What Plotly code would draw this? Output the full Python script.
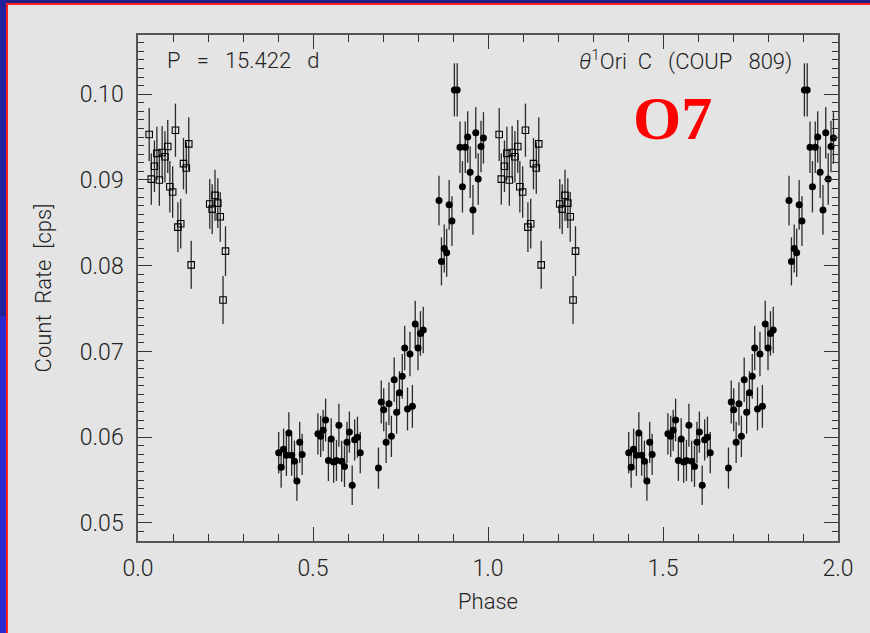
import plotly.graph_objects as go

# ---- data ----
# open squares (phase 0.03-0.25, repeated at +1)
sq_phase = [0.032, 0.038, 0.047, 0.054, 0.061, 0.069, 0.077, 0.085, 0.091, 0.099,
            0.107, 0.114, 0.122, 0.130, 0.138, 0.145, 0.152,
            0.205, 0.212, 0.220, 0.228, 0.235, 0.243, 0.250]
sq_rate = [0.0953, 0.0901, 0.0916, 0.0931, 0.0900, 0.0932, 0.0927, 0.0939, 0.0892, 0.0886,
           0.0958, 0.0845, 0.0849, 0.0919, 0.0914, 0.0942, 0.0801,
           0.0872, 0.0866, 0.0882, 0.0873, 0.0857, 0.0760, 0.0817]
sq_err = [0.0031, 0.0030, 0.0030, 0.0031, 0.0030, 0.0031, 0.0030, 0.0031, 0.0030, 0.0030,
          0.0031, 0.0029, 0.0029, 0.0030, 0.0030, 0.0031, 0.0028,
          0.0029, 0.0029, 0.0030, 0.0029, 0.0029, 0.0028, 0.0029]

# filled circles (phase 0.40-0.99, repeated at +1)
ci_phase = [0.402, 0.409, 0.416, 0.424, 0.431, 0.439, 0.447, 0.454, 0.462, 0.469,
            0.514, 0.522, 0.529, 0.536, 0.544, 0.552, 0.559, 0.567, 0.574, 0.582,
            0.590, 0.597, 0.604, 0.612, 0.619, 0.627, 0.635,
            0.687, 0.695, 0.702, 0.709, 0.717, 0.724, 0.732, 0.739, 0.747, 0.755,
            0.762, 0.770, 0.777, 0.784, 0.792, 0.800, 0.807, 0.815,
            0.860, 0.867, 0.875, 0.882, 0.889, 0.897, 0.904, 0.912, 0.920, 0.927,
            0.935, 0.942, 0.949, 0.957, 0.965, 0.972, 0.980, 0.987]
ci_rate = [0.0582, 0.0565, 0.0586, 0.0579, 0.0605, 0.0579, 0.0572, 0.0549, 0.0594, 0.0580,
           0.0604, 0.0601, 0.0608, 0.0620, 0.0573, 0.0598, 0.0571, 0.0573, 0.0614, 0.0572,
           0.0566, 0.0594, 0.0606, 0.0544, 0.0597, 0.0600, 0.0582,
           0.0564, 0.0641, 0.0632, 0.0594, 0.0639, 0.0601, 0.0667, 0.0629, 0.0652, 0.0671,
           0.0704, 0.0633, 0.0697, 0.0636, 0.0732, 0.0704, 0.0721, 0.0725,
           0.0876, 0.0805, 0.0820, 0.0815, 0.0871, 0.0852, 0.1005, 0.1005, 0.0938, 0.0892,
           0.0938, 0.0950, 0.0909, 0.0865, 0.0955, 0.0901, 0.0939, 0.0949]
ci_err = [0.0024, 0.0024, 0.0024, 0.0024, 0.0024, 0.0024, 0.0024, 0.0023, 0.0024, 0.0024,
          0.0024, 0.0024, 0.0024, 0.0025, 0.0024, 0.0024, 0.0024, 0.0024, 0.0025, 0.0024,
          0.0024, 0.0024, 0.0024, 0.0023, 0.0024, 0.0024, 0.0024,
          0.0024, 0.0025, 0.0025, 0.0024, 0.0025, 0.0024, 0.0026, 0.0025, 0.0025, 0.0026,
          0.0026, 0.0025, 0.0026, 0.0025, 0.0027, 0.0026, 0.0026, 0.0027,
          0.0029, 0.0028, 0.0028, 0.0028, 0.0029, 0.0029, 0.0031, 0.0031, 0.0030, 0.0030,
          0.0030, 0.0030, 0.0030, 0.0029, 0.0030, 0.0030, 0.0030, 0.0030]

x_ticks = [0.0, 0.5, 1.0, 1.5, 2.0]
x_labels = ["0.0", "0.5", "1.0", "1.5", "2.0"]
y_ticks = [0.05, 0.06, 0.07, 0.08, 0.09, 0.10]
y_labels = ["0.05", "0.06", "0.07", "0.08", "0.09", "0.10"]

# ---- layout constants ----
W, H = 870, 633
L, R, T, B = 138, 32, 35, 92
BG = "#e4e4e4"
FONT = "Roboto"
TXT = "#222222"


def px2paper(px, py):
    return (px - L) / (W - L - R), (H - B - py) / (H - T - B)


fig = go.Figure()

err_style = dict(type="data", thickness=1.3, width=0, color="#2b2b2b")

for shift in (0.0, 1.0):
    fig.add_trace(go.Scatter(
        x=[p + shift for p in ci_phase], y=ci_rate, mode="markers",
        marker=dict(symbol="circle", size=7, color="black"),
        error_y=dict(array=ci_err, **err_style),
        showlegend=False, hoverinfo="skip", cliponaxis=False))
    fig.add_trace(go.Scatter(
        x=[p + shift for p in sq_phase], y=sq_rate, mode="markers",
        marker=dict(symbol="square-open", size=6.5, color="black", line=dict(width=1.1)),
        error_y=dict(array=sq_err, **err_style),
        showlegend=False, hoverinfo="skip", cliponaxis=False))

axis_common = dict(
    showline=True, linecolor="#555555", linewidth=1.5, mirror="allticks",
    ticks="inside", tickcolor="#333333", tickwidth=1, showgrid=False, zeroline=False,
    tickfont=dict(family=FONT, size=23, color=TXT, weight=300),
)

fig.update_xaxes(
    range=[0.0, 2.0], tickvals=x_ticks, ticktext=x_labels, ticklen=14,
    ticklabelstandoff=6,
    minor=dict(dtick=0.1, tick0=0, ticklen=7, ticks="inside", tickcolor="#333333", tickwidth=1),
    title=dict(text="Phase", font=dict(family=FONT, size=22, color=TXT, weight=300), standoff=12),
    **axis_common)
fig.update_yaxes(
    range=[0.0479, 0.1069], tickvals=y_ticks, ticktext=y_labels, ticklen=14,
    ticklabelstandoff=8,
    minor=dict(dtick=0.001, tick0=0.05, ticklen=6.5, ticks="inside", tickcolor="#333333", tickwidth=1),
    title=dict(text="Count  Rate  [cps]", font=dict(family=FONT, size=22, color=TXT, weight=300), standoff=22),
    **axis_common)

ax, ay = px2paper(165, 60)
bx, by = px2paper(794, 60)
ox, oy = px2paper(672, 118)
fig.add_annotation(x=ax, y=ay, xref="paper", yref="paper", xanchor="left", yanchor="middle",
                   text="P   =   15.422   d", showarrow=False,
                   font=dict(family=FONT, size=22, color=TXT, weight=300))
fig.add_annotation(x=bx, y=by, xref="paper", yref="paper", xanchor="right", yanchor="middle",
                   text="<i>θ</i><sup>1</sup>Ori  C   (COUP   809)", showarrow=False,
                   font=dict(family=FONT, size=22, color=TXT, weight=300))
fig.add_annotation(x=ox, y=oy, xref="paper", yref="paper", xanchor="center", yanchor="middle",
                   text="<b>O7</b>", showarrow=False,
                   font=dict(family="Liberation Serif", size=62, color="#ff0000"))


# slide border: blue band + red line on left and top
def rect(px0, py0, px1, py1, color):
    x0, y0 = px2paper(px0, py1)
    x1, y1 = px2paper(px1, py0)
    fig.add_shape(type="rect", xref="paper", yref="paper", x0=x0, x1=x1, y0=y0, y1=y1,
                  fillcolor=color, line=dict(width=0), layer="above")


rect(0, 0, W, 3, "#1f1f88")
rect(6, 3, W, 5, "#ff2020")
rect(0, 0, 6, H * 0.5 + 1, "#22229c")
rect(0, H * 0.5, 6, H, "#2a2ad0")
rect(6, 3, 8, H, "#ff2020")

fig.update_layout(
    width=W, height=H, margin=dict(l=L, r=R, t=T, b=B),
    paper_bgcolor=BG, plot_bgcolor=BG, showlegend=False,
)

fig.write_html("out.html", config={"displayModeBar": False},
               post_script="document.body.style.margin='0px';document.body.style.overflow='hidden';")
